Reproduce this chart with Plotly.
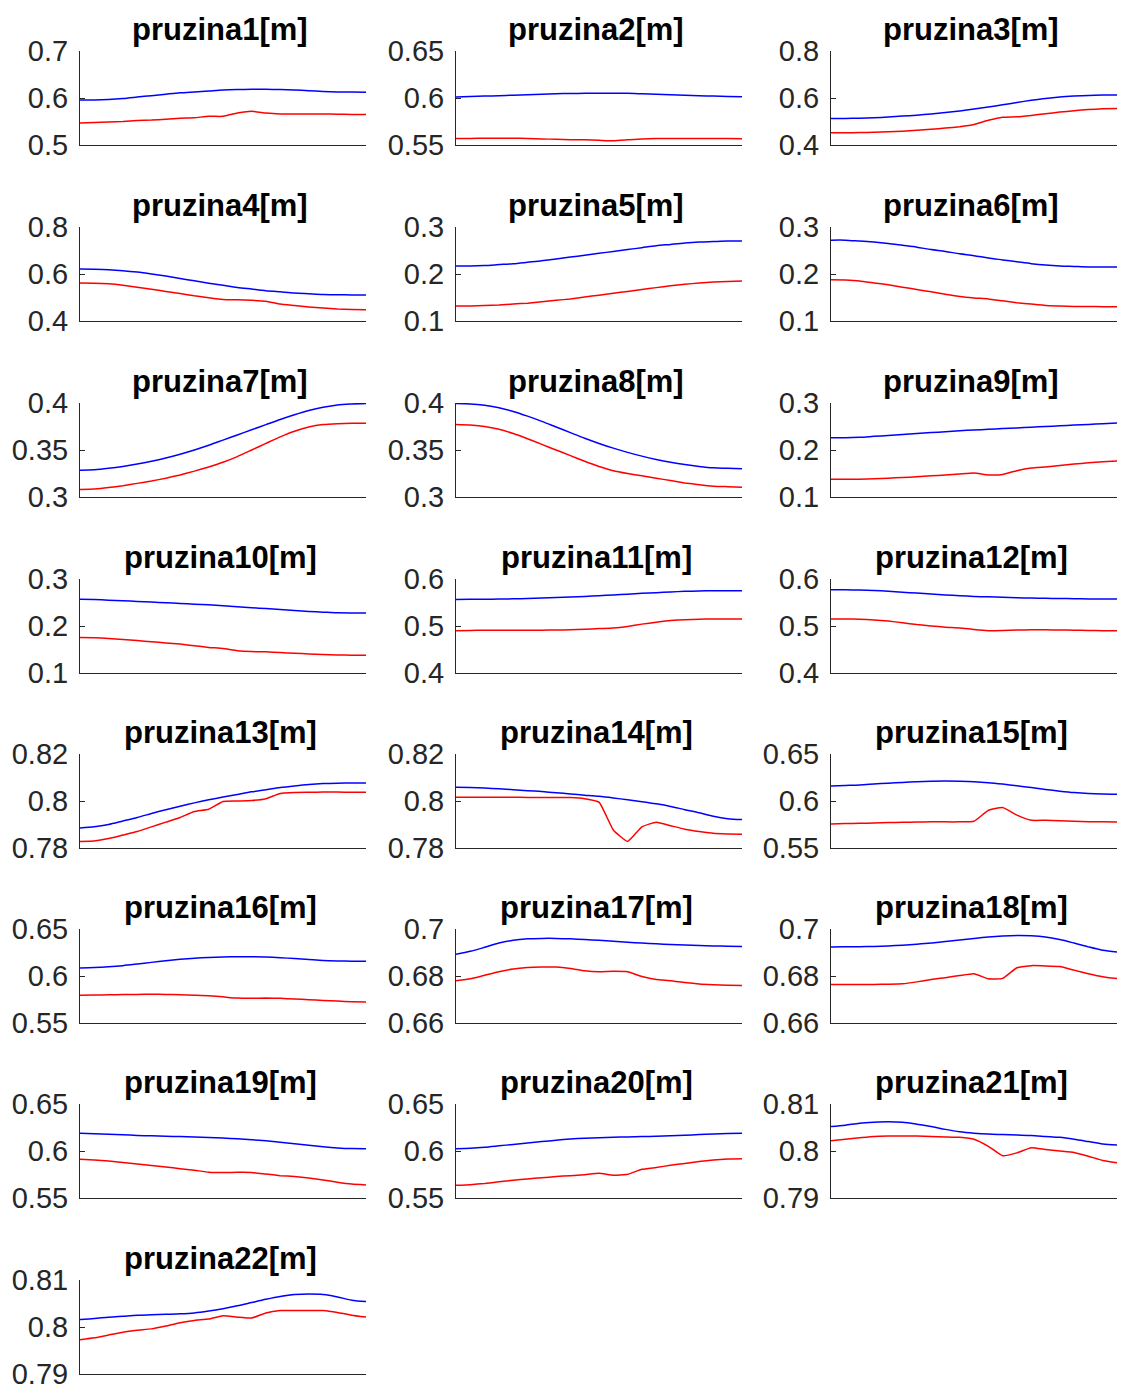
import plotly.graph_objects as go

# sample index along the simulation (x axis carries no labels)
t = [0, 1, 2, 3, 4, 5, 6, 7, 8, 9, 10, 11, 12, 13, 14, 15, 16, 17, 18, 19, 20]

titles = ["pruzina%d[m]" % k for k in range(1, 23)]

# y tick values per spring (bottom, middle, top)
ticks = [
    [0.5, 0.6, 0.7], [0.55, 0.6, 0.65], [0.4, 0.6, 0.8],
    [0.4, 0.6, 0.8], [0.1, 0.2, 0.3], [0.1, 0.2, 0.3],
    [0.3, 0.35, 0.4], [0.3, 0.35, 0.4], [0.1, 0.2, 0.3],
    [0.1, 0.2, 0.3], [0.4, 0.5, 0.6], [0.4, 0.5, 0.6],
    [0.78, 0.8, 0.82], [0.78, 0.8, 0.82], [0.55, 0.6, 0.65],
    [0.55, 0.6, 0.65], [0.66, 0.68, 0.7], [0.66, 0.68, 0.7],
    [0.55, 0.6, 0.65], [0.55, 0.6, 0.65], [0.79, 0.8, 0.81],
    [0.79, 0.8, 0.81],
]

blue01 = [0.596, 0.596, 0.597, 0.599, 0.602, 0.605, 0.608, 0.611, 0.613, 0.615, 0.617,
          0.618, 0.6185, 0.6185, 0.618, 0.617, 0.6155, 0.614, 0.613, 0.6125, 0.612]
red01 = [0.547, 0.548, 0.549, 0.550, 0.552, 0.553, 0.555, 0.557, 0.558, 0.561, 0.561,
         0.568, 0.572, 0.568, 0.566, 0.566, 0.566, 0.566, 0.5655, 0.565, 0.565]

blue02 = [0.601, 0.6015, 0.602, 0.6025, 0.603, 0.6035, 0.604, 0.6045, 0.6048, 0.605, 0.605,
          0.605, 0.605, 0.6045, 0.604, 0.6035, 0.603, 0.6025, 0.602, 0.6015, 0.6012]
red02 = [0.557, 0.557, 0.5572, 0.5572, 0.5572, 0.557, 0.5565, 0.556, 0.5555, 0.5555, 0.555,
         0.5545, 0.5555, 0.5565, 0.5568, 0.557, 0.557, 0.557, 0.557, 0.5568, 0.5567]

blue03 = [0.513, 0.513, 0.514, 0.516, 0.519, 0.523, 0.527, 0.532, 0.538, 0.545, 0.553,
          0.562, 0.571, 0.581, 0.590, 0.598, 0.604, 0.608, 0.611, 0.6125, 0.613]
red03 = [0.452, 0.452, 0.453, 0.454, 0.456, 0.459, 0.463, 0.467, 0.472, 0.478, 0.487,
         0.505, 0.518, 0.520, 0.526, 0.533, 0.540, 0.546, 0.551, 0.554, 0.555]

blue04 = [0.621, 0.620, 0.618, 0.614, 0.608, 0.600, 0.591, 0.581, 0.571, 0.561, 0.552,
          0.543, 0.536, 0.529, 0.524, 0.519, 0.516, 0.513, 0.512, 0.511, 0.511]
red04 = [0.562, 0.561, 0.558, 0.552, 0.544, 0.535, 0.526, 0.517, 0.507, 0.499, 0.492,
         0.490, 0.488, 0.484, 0.472, 0.466, 0.460, 0.455, 0.451, 0.449, 0.448]

blue05 = [0.217, 0.217, 0.218, 0.220, 0.222, 0.225, 0.228, 0.232, 0.236, 0.240, 0.244,
          0.248, 0.252, 0.256, 0.260, 0.263, 0.266, 0.268, 0.269, 0.270, 0.270]
red05 = [0.132, 0.132, 0.133, 0.134, 0.136, 0.138, 0.141, 0.144, 0.147, 0.151, 0.155,
         0.159, 0.163, 0.167, 0.171, 0.175, 0.178, 0.181, 0.183, 0.184, 0.185]

blue06 = [0.272, 0.272, 0.270, 0.268, 0.265, 0.261, 0.257, 0.252, 0.248, 0.243, 0.239,
          0.234, 0.230, 0.226, 0.222, 0.219, 0.217, 0.216, 0.215, 0.215, 0.215]
red06 = [0.188, 0.187, 0.185, 0.181, 0.177, 0.172, 0.167, 0.162, 0.157, 0.152, 0.149,
         0.147, 0.143, 0.139, 0.136, 0.133, 0.132, 0.131, 0.131, 0.1305, 0.1305]

blue07 = [0.3285, 0.329, 0.3305, 0.3325, 0.335, 0.338, 0.3415, 0.3455, 0.350, 0.355, 0.3605,
          0.366, 0.3715, 0.377, 0.3825, 0.3875, 0.392, 0.3955, 0.398, 0.399, 0.3995]
red07 = [0.308, 0.3085, 0.310, 0.312, 0.3145, 0.317, 0.320, 0.3235, 0.3275, 0.332, 0.337,
         0.343, 0.350, 0.357, 0.364, 0.370, 0.3745, 0.377, 0.378, 0.3785, 0.3785]

blue08 = [0.3995, 0.399, 0.3975, 0.395, 0.391, 0.386, 0.3805, 0.3745, 0.3685, 0.3625, 0.357,
          0.352, 0.3475, 0.3435, 0.340, 0.337, 0.3345, 0.3325, 0.331, 0.3305, 0.330]
red08 = [0.377, 0.3765, 0.375, 0.372, 0.3675, 0.362, 0.356, 0.350, 0.344, 0.338, 0.3325,
         0.328, 0.325, 0.3225, 0.320, 0.3175, 0.315, 0.313, 0.3115, 0.311, 0.3105]

blue09 = [0.226, 0.226, 0.227, 0.229, 0.231, 0.233, 0.235, 0.237, 0.239, 0.241, 0.2425,
          0.244, 0.2455, 0.247, 0.2485, 0.250, 0.2515, 0.253, 0.2545, 0.256, 0.2575]
red09 = [0.1375, 0.1375, 0.138, 0.139, 0.140, 0.1415, 0.143, 0.145, 0.147, 0.149, 0.151,
         0.147, 0.148, 0.156, 0.1615, 0.164, 0.167, 0.170, 0.173, 0.175, 0.1765]

blue10 = [0.257, 0.2562, 0.255, 0.2537, 0.2523, 0.251, 0.2495, 0.248, 0.2465, 0.245, 0.2432,
          0.2412, 0.239, 0.237, 0.235, 0.233, 0.231, 0.2295, 0.228, 0.2277, 0.2277]
red10 = [0.1755, 0.175, 0.1735, 0.1715, 0.169, 0.1665, 0.164, 0.1615, 0.158, 0.1545, 0.152,
         0.1475, 0.1455, 0.145, 0.1435, 0.142, 0.1405, 0.1395, 0.1385, 0.138, 0.138]

blue11 = [0.5565, 0.5567, 0.557, 0.5573, 0.5578, 0.5585, 0.5595, 0.5605, 0.5617, 0.563, 0.5645,
          0.566, 0.5677, 0.5695, 0.571, 0.5725, 0.5737, 0.5745, 0.575, 0.575, 0.575]
red11 = [0.490, 0.4905, 0.491, 0.491, 0.4912, 0.4912, 0.4912, 0.4915, 0.492, 0.493, 0.4945,
         0.4955, 0.499, 0.504, 0.508, 0.5115, 0.5135, 0.5145, 0.515, 0.515, 0.515]

blue12 = [0.577, 0.577, 0.5765, 0.5755, 0.574, 0.572, 0.570, 0.568, 0.566, 0.5645, 0.563,
          0.562, 0.561, 0.5602, 0.5595, 0.559, 0.5585, 0.558, 0.5577, 0.5575, 0.5573]
red12 = [0.515, 0.515, 0.5145, 0.513, 0.5105, 0.507, 0.503, 0.500, 0.4975, 0.496, 0.4925,
         0.490, 0.4905, 0.4915, 0.4918, 0.4918, 0.4915, 0.491, 0.4905, 0.490, 0.4898]

blue13 = [0.7885, 0.789, 0.790, 0.7915, 0.793, 0.7947, 0.7963, 0.7978, 0.7992, 0.8005, 0.8017,
          0.8028, 0.8039, 0.8048, 0.8057, 0.8064, 0.807, 0.8074, 0.8076, 0.8077, 0.8077]
red13 = [0.7828, 0.783, 0.784, 0.7855, 0.787, 0.789, 0.791, 0.793, 0.7955, 0.7965, 0.7998,
         0.800, 0.8002, 0.801, 0.8032, 0.8036, 0.8037, 0.8038, 0.8038, 0.8037, 0.8037]

blue14 = [0.8058, 0.8057, 0.8055, 0.8052, 0.8048, 0.8044, 0.804, 0.8035, 0.803, 0.8025, 0.802,
          0.8013, 0.8005, 0.7997, 0.7988, 0.7977, 0.7963, 0.795, 0.7935, 0.7925, 0.7921]
red14 = [0.8016, 0.8016, 0.8016, 0.8016, 0.8016, 0.8015, 0.8015, 0.8015, 0.8015, 0.801, 0.7995,
         0.7877, 0.7828, 0.789, 0.791, 0.7895, 0.788, 0.787, 0.7863, 0.786, 0.7858]

blue15 = [0.616, 0.6165, 0.617, 0.618, 0.619, 0.6198, 0.6205, 0.621, 0.6212, 0.621, 0.6205,
          0.6195, 0.618, 0.6162, 0.6143, 0.6123, 0.6105, 0.609, 0.608, 0.6075, 0.6073]
red15 = [0.5755, 0.576, 0.5763, 0.5766, 0.577, 0.5773, 0.5776, 0.5778, 0.5778, 0.5778, 0.5785,
         0.590, 0.593, 0.585, 0.5795, 0.5795, 0.579, 0.5785, 0.578, 0.5778, 0.5777]

blue16 = [0.6086, 0.609, 0.6098, 0.611, 0.6127, 0.6145, 0.6163, 0.6178, 0.619, 0.6198, 0.6203,
          0.6205, 0.6205, 0.6202, 0.6195, 0.6185, 0.6175, 0.6165, 0.616, 0.6157, 0.6156]
red16 = [0.5795, 0.5797, 0.580, 0.5802, 0.5804, 0.5805, 0.5804, 0.580, 0.5795, 0.579, 0.5778,
         0.5765, 0.5763, 0.5765, 0.5762, 0.5755, 0.5748, 0.574, 0.5733, 0.5727, 0.5724]

blue17 = [0.6892, 0.6905, 0.6922, 0.694, 0.6952, 0.6958, 0.696, 0.696, 0.6958, 0.6955, 0.6952,
          0.6948, 0.6944, 0.694, 0.6937, 0.6934, 0.6932, 0.693, 0.6928, 0.6927, 0.6926]
red17 = [0.678, 0.6788, 0.6803, 0.6818, 0.683, 0.6836, 0.6838, 0.6838, 0.6832, 0.6822, 0.6818,
         0.682, 0.6818, 0.6798, 0.6785, 0.678, 0.6772, 0.6766, 0.6763, 0.6761, 0.676]

blue18 = [0.6923, 0.6924, 0.6925, 0.6926, 0.6928, 0.6931, 0.6935, 0.694, 0.6947, 0.6953, 0.696,
          0.6966, 0.697, 0.6972, 0.6971, 0.6966, 0.6955, 0.694, 0.6924, 0.691, 0.6902]
red18 = [0.6764, 0.6764, 0.6764, 0.6764, 0.6765, 0.6767, 0.6775, 0.6785, 0.6793, 0.6802, 0.681,
         0.6788, 0.679, 0.6835, 0.6844, 0.6843, 0.684, 0.6825, 0.681, 0.6797, 0.6789]

blue19 = [0.6188, 0.6184, 0.6178, 0.6172, 0.6166, 0.6161, 0.6157, 0.6153, 0.6148, 0.6143, 0.6137,
          0.613, 0.612, 0.6108, 0.6093, 0.6077, 0.606, 0.6045, 0.6033, 0.6026, 0.6025]
red19 = [0.5912, 0.5905, 0.5893, 0.5878, 0.5862, 0.5846, 0.583, 0.5812, 0.5795, 0.5775, 0.577,
         0.5773, 0.5772, 0.5755, 0.5738, 0.5728, 0.5712, 0.5692, 0.5668, 0.5648, 0.5638]

blue20 = [0.6025, 0.603, 0.604, 0.6055, 0.607, 0.6085, 0.610, 0.6115, 0.6127, 0.6136, 0.6142,
          0.6147, 0.615, 0.6153, 0.6157, 0.6162, 0.6168, 0.6175, 0.6182, 0.6186, 0.6188]
red20 = [0.5635, 0.5642, 0.5655, 0.5672, 0.5688, 0.5703, 0.5716, 0.5728, 0.5738, 0.5748, 0.5762,
         0.5742, 0.5752, 0.5805, 0.5825, 0.5848, 0.5868, 0.5888, 0.5905, 0.5915, 0.5918]

blue21 = [0.8052, 0.8055, 0.8059, 0.8061, 0.8062, 0.8061, 0.8057, 0.8052, 0.8046, 0.8041, 0.8038,
          0.8036, 0.8035, 0.8034, 0.8033, 0.8031, 0.8029, 0.8025, 0.802, 0.8015, 0.8013]
red21 = [0.8022, 0.8025, 0.8028, 0.8031, 0.8032, 0.8032, 0.8032, 0.8031, 0.803, 0.8029, 0.8025,
         0.801, 0.799, 0.7996, 0.8007, 0.8003, 0.800, 0.7997, 0.7989, 0.798, 0.7975]

blue22 = [0.8016, 0.8018, 0.8021, 0.8023, 0.8025, 0.8026, 0.8027, 0.8028, 0.803, 0.8034, 0.8039,
          0.8045, 0.8052, 0.8059, 0.8065, 0.8069, 0.807, 0.8069, 0.8064, 0.8057, 0.8054]
red22 = [0.7973, 0.7977, 0.7983, 0.7989, 0.7993, 0.7996, 0.8002, 0.8009, 0.8014, 0.8017, 0.8024,
         0.8021, 0.8019, 0.803, 0.8035, 0.8035, 0.8035, 0.8035, 0.8031, 0.8025, 0.8021]

blue_series = [blue01, blue02, blue03, blue04, blue05, blue06, blue07, blue08, blue09, blue10, blue11,
               blue12, blue13, blue14, blue15, blue16, blue17, blue18, blue19, blue20, blue21, blue22]
red_series = [red01, red02, red03, red04, red05, red06, red07, red08, red09, red10, red11,
              red12, red13, red14, red15, red16, red17, red18, red19, red20, red21, red22]

# page geometry (pixels)
W, H = 1121, 1394
col_left = [80, 456, 831]
col_width = 286
row_top = [51, 227, 403, 579, 754, 929, 1104, 1280]
row_height = 94

AXIS = "#262626"
TICK_FONT = dict(family="Liberation Sans, Arial, sans-serif", size=29, color=AXIS)
TITLE_FONT = dict(family="Liberation Sans, Arial, sans-serif", size=31, color="black")


def fmt(v):
    return ("%.2f" % v).rstrip("0").rstrip(".")


fig = go.Figure()
layout = dict(
    width=W, height=H,
    margin=dict(l=0, r=0, t=0, b=0, pad=0),
    paper_bgcolor="white", plot_bgcolor="white",
    showlegend=False,
)
annotations = []

for i in range(22):
    r, c = divmod(i, 3)
    k = "" if i == 0 else str(i + 1)
    xa, ya = "x" + k, "y" + k
    x0 = col_left[c] / W
    x1 = (col_left[c] + col_width) / W
    y1 = 1 - row_top[r] / H
    y0 = 1 - (row_top[r] + row_height) / H

    fig.add_trace(go.Scatter(x=t, y=blue_series[i], mode="lines",
                             line=dict(color="#0000ff", width=1.5, shape="spline", smoothing=0.8),
                             xaxis=xa, yaxis=ya, hoverinfo="skip"))
    fig.add_trace(go.Scatter(x=t, y=red_series[i], mode="lines",
                             line=dict(color="#ff0000", width=1.5, shape="spline", smoothing=0.4),
                             xaxis=xa, yaxis=ya, hoverinfo="skip"))

    tv = ticks[i]
    layout["xaxis" + k] = dict(
        domain=[x0, x1], anchor=ya, range=[t[0], t[-1]], automargin=False,
        showline=True, linecolor=AXIS, linewidth=1,
        showticklabels=False, ticks="", showgrid=False, zeroline=False,
    )
    layout["yaxis" + k] = dict(
        domain=[y0, y1], anchor=xa, range=[tv[0], tv[-1]], automargin=False,
        showline=True, linecolor=AXIS, linewidth=1,
        tickmode="array", tickvals=tv, ticktext=[fmt(v) for v in tv],
        ticks="inside", ticklen=5, tickcolor=AXIS, tickwidth=1,
        ticklabelstandoff=5,
        tickfont=TICK_FONT, showgrid=False, zeroline=False,
    )
    annotations.append(dict(
        text="<b>%s</b>" % titles[i], xref=xa + " domain", yref=ya + " domain",
        x=0.5, y=1, xanchor="center", yanchor="bottom", yshift=2, xshift=-3,
        showarrow=False, font=TITLE_FONT,
    ))

layout["annotations"] = annotations
fig.update_layout(**layout)
fig.write_html("out.html")
